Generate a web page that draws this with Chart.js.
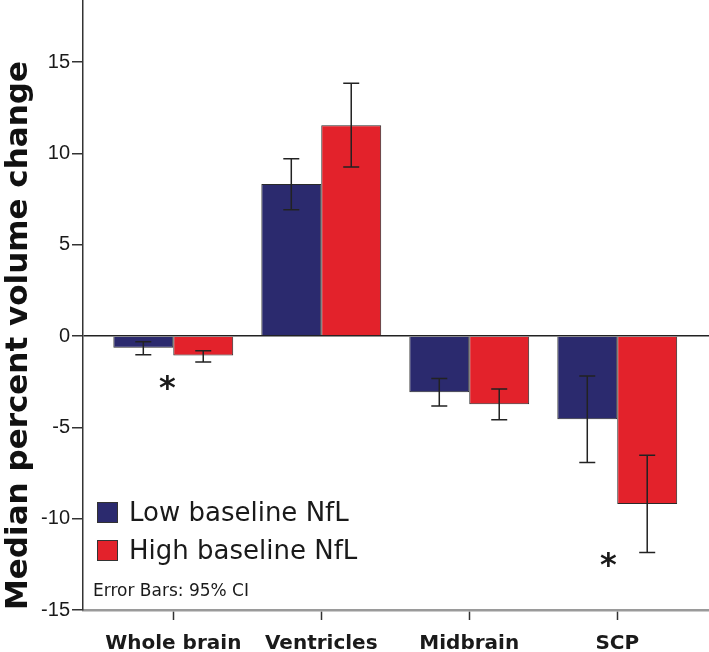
<!DOCTYPE html>
<html>
<head>
<meta charset="utf-8">
<script src="https://cdn.jsdelivr.net/npm/chart.js@4/dist/chart.umd.min.js"></script>
<style>
  html, body { margin: 0; padding: 0; background: #fff; }
  #wrap { position: relative; width: 709px; height: 652px; }
  #legend { position: absolute; left: 97px; top: 493px; font-family: "DejaVu Sans", sans-serif; font-size: 26px; color: #1a1a1a; }
  .row { display: flex; align-items: center; height: 38px; }
  .box { width: 19px; height: 19px; border: 1px solid #333; margin-right: 11px; }
  #note { position: absolute; left: 93px; top: 580px; font-family: "DejaVu Sans", sans-serif; font-size: 17px; color: #1a1a1a; }
</style>
</head>
<body>
<div id="wrap">
  <canvas id="chart"></canvas>
  <div id="legend"></div>
  <div id="note">Error Bars: 95% CI</div>
</div>
<script>
const CATEGORIES = ["Whole brain", "Ventricles", "Midbrain", "SCP"];

const LOW_LABEL = "Low baseline NfL";
const LOW_VALUES = [-0.64, 8.32, -3.08, -4.56];
const LOW_CI_UPPER = [-0.31, 9.71, -2.32, -2.19];
const LOW_CI_LOWER = [-1.02, 6.92, -3.83, -6.92];

const HIGH_LABEL = "High baseline NfL";
const HIGH_VALUES = [-1.06, 11.54, -3.74, -9.2];
const HIGH_CI_UPPER = [-0.8, 13.84, -2.9, -6.52];
const HIGH_CI_LOWER = [-1.42, 9.26, -4.58, -11.85];

// significance markers: [category position, y value]
const STARS = [[-0.04, -2.6], [2.94, -12.3]];

const Y_TICKS = [15, 10, 5, 0, -5, -10, -15];

const BLUE = "#2b2a6e";
const RED = "#e3222b";

const datasets = [
  { label: LOW_LABEL, values: LOW_VALUES, hi: LOW_CI_UPPER, lo: LOW_CI_LOWER, color: BLUE },
  { label: HIGH_LABEL, values: HIGH_VALUES, hi: HIGH_CI_UPPER, lo: HIGH_CI_LOWER, color: RED },
];

document.getElementById("legend").innerHTML = datasets
  .map((d) => `<div class="row"><div class="box" style="background:${d.color}"></div>${d.label}</div>`)
  .join("");

const errorBars = {
  id: "errorBars",
  afterDatasetsDraw(chart) {
    const ctx = chart.ctx;
    const y = chart.scales.y;
    ctx.save();
    ctx.strokeStyle = "#222";
    ctx.lineWidth = 1.5;
    chart.data.datasets.forEach((ds, di) => {
      const meta = chart.getDatasetMeta(di);
      meta.data.forEach((bar, i) => {
        const top = y.getPixelForValue(ds.ciHi[i]);
        const bot = y.getPixelForValue(ds.ciLo[i]);
        ctx.beginPath();
        ctx.moveTo(bar.x, top);
        ctx.lineTo(bar.x, bot);
        ctx.moveTo(bar.x - 8, top);
        ctx.lineTo(bar.x + 8, top);
        ctx.moveTo(bar.x - 8, bot);
        ctx.lineTo(bar.x + 8, bot);
        ctx.stroke();
      });
    });
    ctx.fillStyle = "#1a1a1a";
    ctx.font = "bold 32px 'DejaVu Sans'";
    ctx.textAlign = "center";
    ctx.textBaseline = "middle";
    STARS.forEach(([cx, cy]) => {
      ctx.fillText("*", chart.scales.x.getPixelForValue(cx), y.getPixelForValue(cy) + 6);
    });
    ctx.restore();
  },
};

new Chart(document.getElementById("chart"), {
  type: "bar",
  data: {
    datasets: datasets.map((d) => ({
      label: d.label,
      data: d.values.map((v, i) => ({ x: i, y: v })),
      ciHi: d.hi,
      ciLo: d.lo,
      backgroundColor: d.color,
      borderColor: "#2a2a2a",
      borderWidth: 1,
    })),
  },
  options: {
    responsive: true,
    maintainAspectRatio: false,
    animation: false,
    categoryPercentage: 0.81,
    barPercentage: 1,
    layout: { padding: 0 },
    plugins: { legend: { display: false }, tooltip: { enabled: false } },
    scales: {
      x: {
        type: "linear",
        offset: false,
        min: -0.61,
        max: 3.62,
        afterBuildTicks: (axis) => {
          axis.ticks = CATEGORIES.map((_, i) => ({ value: i }));
        },
        afterFit: (axis) => {
          axis.height = 42;
          axis.paddingLeft = 0;
          axis.paddingRight = 0;
        },
        border: { display: true, color: "#9a9a9a", width: 2.5 },
        grid: { offset: false, drawOnChartArea: false, drawTicks: true, tickLength: 10, tickColor: "#333", tickWidth: 1.5 },
        ticks: {
          callback: (v) => CATEGORIES[v] ?? "",
          font: { family: "DejaVu Sans", weight: "bold", size: 20 },
          color: "#1a1a1a",
          padding: 12,
          maxRotation: 0,
          autoSkip: false,
        },
      },
      y: {
        min: -15,
        max: 18.4,
        afterBuildTicks: (axis) => {
          axis.ticks = Y_TICKS.map((v) => ({ value: v }));
        },
        afterFit: (axis) => {
          axis.width = 83;
          axis.paddingTop = 0;
          axis.paddingBottom = 0;
        },
        border: { display: true, color: "#333", width: 1.5 },
        grid: {
          color: (c) => (c.tick && c.tick.value === 0 ? "#222" : "rgba(0,0,0,0)"),
          lineWidth: 1.5,
          drawTicks: true,
          tickLength: 11,
          tickColor: "#333",
          tickWidth: 1.5,
        },
        ticks: {
          font: { family: "Liberation Sans", size: 20 },
          color: "#1a1a1a",
          padding: 2,
        },
        title: {
          display: true,
          align: "start",
          text: "Median percent volume change",
          font: { family: "DejaVu Sans", weight: "bold", size: 31 },
          color: "#111",
          padding: 0,
        },
      },
    },
  },
  plugins: [errorBars],
});
</script>
</body>
</html>
